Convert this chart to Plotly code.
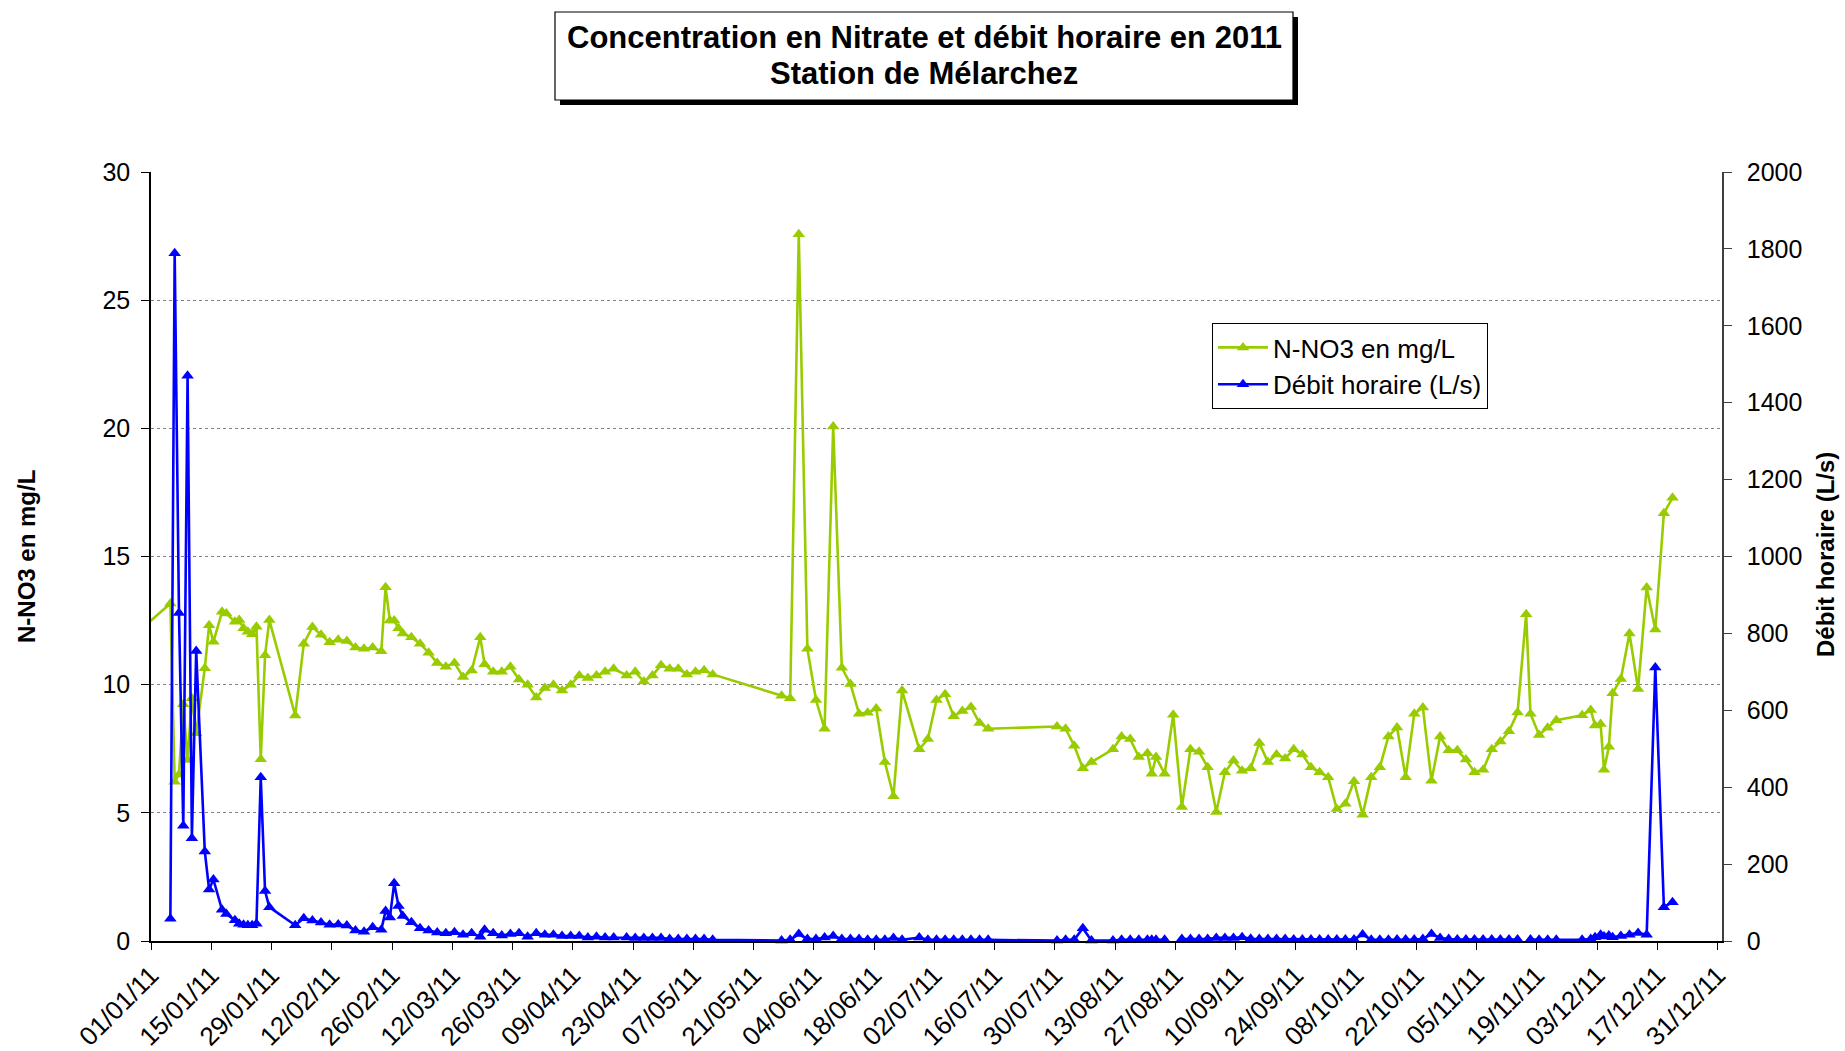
import plotly.graph_objects as go
import pandas as pd

# ---------------- data ----------------
dates = [
    "2010-12-24 12:00",
    "2011-01-05 12:00", "2011-01-06 12:00", "2011-01-07 12:00", "2011-01-08 12:00", "2011-01-09 12:00",
    "2011-01-10 12:00", "2011-01-11 12:00", "2011-01-13 12:00", "2011-01-14 12:00", "2011-01-15 12:00",
    "2011-01-17 12:00", "2011-01-18 12:00", "2011-01-20 12:00", "2011-01-21 12:00", "2011-01-22 12:00",
    "2011-01-23 12:00", "2011-01-24 12:00", "2011-01-25 12:00", "2011-01-26 12:00", "2011-01-27 12:00",
    "2011-01-28 12:00",
    "2011-02-03 12:00", "2011-02-05 12:00", "2011-02-07 12:00", "2011-02-09 12:00", "2011-02-11 12:00",
    "2011-02-13 12:00", "2011-02-15 12:00", "2011-02-17 12:00", "2011-02-19 12:00", "2011-02-21 12:00",
    "2011-02-23 12:00", "2011-02-24 12:00", "2011-02-25 12:00", "2011-02-26 12:00", "2011-02-27 12:00",
    "2011-02-28 12:00",
    "2011-03-02 12:00", "2011-03-04 12:00", "2011-03-06 12:00", "2011-03-08 12:00", "2011-03-10 12:00",
    "2011-03-12 12:00", "2011-03-14 12:00", "2011-03-16 12:00", "2011-03-18 12:00", "2011-03-19 12:00",
    "2011-03-21 12:00", "2011-03-23 12:00", "2011-03-25 12:00", "2011-03-27 12:00", "2011-03-29 12:00",
    "2011-03-31 12:00",
    "2011-04-02 12:00", "2011-04-04 12:00", "2011-04-06 12:00", "2011-04-08 12:00", "2011-04-10 12:00",
    "2011-04-12 12:00", "2011-04-14 12:00", "2011-04-16 12:00", "2011-04-18 12:00", "2011-04-21 12:00",
    "2011-04-23 12:00", "2011-04-25 12:00", "2011-04-27 12:00", "2011-04-29 12:00",
    "2011-05-01 12:00", "2011-05-03 12:00", "2011-05-05 12:00", "2011-05-07 12:00", "2011-05-09 12:00",
    "2011-05-11 12:00", "2011-05-27 12:00", "2011-05-29 12:00", "2011-05-31 12:00",
    "2011-06-02 12:00", "2011-06-04 12:00", "2011-06-06 12:00", "2011-06-08 12:00", "2011-06-10 12:00",
    "2011-06-12 12:00", "2011-06-14 12:00", "2011-06-16 12:00", "2011-06-18 12:00", "2011-06-20 12:00",
    "2011-06-22 12:00", "2011-06-24 12:00", "2011-06-28 12:00", "2011-06-30 12:00",
    "2011-07-02 12:00", "2011-07-04 12:00", "2011-07-06 12:00", "2011-07-08 12:00", "2011-07-10 12:00",
    "2011-07-12 12:00", "2011-07-14 12:00", "2011-07-30 12:00",
    "2011-08-01 12:00", "2011-08-03 12:00", "2011-08-05 12:00", "2011-08-07 12:00", "2011-08-12 12:00",
    "2011-08-14 12:00", "2011-08-16 12:00", "2011-08-18 12:00", "2011-08-20 12:00", "2011-08-21 12:00",
    "2011-08-22 12:00", "2011-08-24 12:00", "2011-08-26 12:00", "2011-08-28 12:00", "2011-08-30 12:00",
    "2011-09-01 12:00", "2011-09-03 12:00", "2011-09-05 12:00", "2011-09-07 12:00", "2011-09-09 12:00",
    "2011-09-11 12:00", "2011-09-13 12:00", "2011-09-15 12:00", "2011-09-17 12:00", "2011-09-19 12:00",
    "2011-09-21 12:00", "2011-09-23 12:00", "2011-09-25 12:00", "2011-09-27 12:00", "2011-09-29 12:00",
    "2011-10-01 12:00", "2011-10-03 12:00", "2011-10-05 12:00", "2011-10-07 12:00", "2011-10-09 12:00",
    "2011-10-11 12:00", "2011-10-13 12:00", "2011-10-15 12:00", "2011-10-17 12:00", "2011-10-19 12:00",
    "2011-10-21 12:00", "2011-10-23 12:00", "2011-10-25 12:00", "2011-10-27 12:00", "2011-10-29 12:00",
    "2011-10-31 12:00",
    "2011-11-02 12:00", "2011-11-04 12:00", "2011-11-06 12:00", "2011-11-08 12:00", "2011-11-10 12:00",
    "2011-11-12 12:00", "2011-11-14 12:00", "2011-11-16 12:00", "2011-11-17 12:00", "2011-11-19 12:00",
    "2011-11-21 12:00", "2011-11-23 12:00", "2011-11-29 12:00",
    "2011-12-01 12:00", "2011-12-02 12:00", "2011-12-03 19:00", "2011-12-04 14:00", "2011-12-05 17:00",
    "2011-12-06 14:00", "2011-12-08 12:00", "2011-12-10 12:00", "2011-12-12 12:00", "2011-12-14 12:00",
    "2011-12-16 12:00", "2011-12-18 12:00", "2011-12-20 12:00",
]

nitrate = [
    11.4,
    13.17, 6.21, 6.5, 9.24, 7.06,
    9.47, 8.1, 10.64, 12.32, 11.67,
    12.84, 12.78, 12.45, 12.52, 12.2,
    12.06, 11.97, 12.26, 7.09, 11.15,
    12.52,
    8.8, 11.6, 12.25, 11.95, 11.65,
    11.75, 11.7, 11.45, 11.4, 11.45,
    11.3, 13.8, 12.5, 12.5, 12.2,
    12.0,
    11.85, 11.6, 11.25, 10.85, 10.7,
    10.85, 10.3, 10.55, 11.85, 10.8,
    10.5, 10.5, 10.7, 10.2, 10.0,
    9.5,
    9.87, 10.0, 9.77, 10.0, 10.36,
    10.26, 10.36, 10.5, 10.62, 10.36,
    10.5, 10.12, 10.36, 10.76,
    10.62, 10.62, 10.4, 10.5, 10.56,
    10.4, 9.57, 9.47, 27.57,
    11.4, 9.4, 8.28, 20.07, 10.66,
    10.03, 8.87, 8.9, 9.07, 6.98,
    5.65, 9.77, 7.48, 7.88,
    9.4, 9.63, 8.77, 8.97, 9.13,
    8.5, 8.28, 8.37,
    8.28, 7.62, 6.74, 6.98, 7.48,
    7.98, 7.88, 7.18, 7.32, 6.52,
    7.18, 6.52, 8.83, 5.23, 7.48,
    7.38, 6.78, 5.03, 6.58, 7.04,
    6.64, 6.74, 7.72, 6.98, 7.28,
    7.12, 7.48, 7.28, 6.78, 6.58,
    6.39, 5.15, 5.35, 6.23, 4.93,
    6.39, 6.78, 7.98, 8.33, 6.39,
    8.87, 9.11, 6.25, 7.98, 7.44,
    7.44,
    7.08, 6.58, 6.68, 7.48, 7.78,
    8.18, 8.91, 12.75, 8.87, 8.04,
    8.32, 8.61, 8.81,
    9.01, 8.41, 8.47, 6.68, 7.58,
    9.67, 10.22, 12.0, 9.83, 13.79,
    12.15, 16.69, 17.29,
]

debit = [
    None,
    58, 1789, 853, 300, 1470,
    267, 754, 233, 134, 160,
    81, 70, 54, 45, 42,
    41, 41, 45, 426, 130,
    88,
    41, 59, 53, 48, 42,
    43, 40, 27, 24, 36,
    29, 78, 61, 150, 91,
    65,
    49, 33, 27, 22, 20,
    23, 16, 20, 11, 29,
    20, 14, 18, 20, 11,
    20,
    16, 16, 13, 13, 13,
    9, 11, 9, 9, 9,
    8, 8, 8, 8,
    5, 5, 5, 5, 5,
    3, 1, 3, 18,
    5, 5, 9, 13, 5,
    5, 5, 3, 3, 3,
    8, 3, 9, 3,
    3, 3, 3, 3, 3,
    3, 3, 1,
    3, 3, 33, 1, 1,
    3, 3, 3, 3, 3,
    3, 3, None, 5, 5,
    5, 5, 8, 8, 8,
    10, 6, 5, 5, 5,
    5, 4, 4, 4, 4,
    4, 4, 4, 4, 17,
    3, 3, 3, 4, 4,
    4, 5, 18, 8, 5,
    4,
    4, 4, 4, 4, 4,
    4, 4, None, 4, 3,
    3, 3, 3,
    5, 10, 16, 12, 14,
    10, 13, 16, 21, 16,
    711, 88, 101,
]

tick_dates = pd.date_range("2011-01-01", "2011-12-31", freq="14D")
tick_labels = ["01/01/11", "15/01/11", "29/01/11", "12/02/11", "26/02/11", "12/03/11", "26/03/11",
               "09/04/11", "23/04/11", "07/05/11", "21/05/11", "04/06/11", "18/06/11", "02/07/11",
               "16/07/11", "30/07/11", "13/08/11", "27/08/11", "10/09/11", "24/09/11", "08/10/11",
               "22/10/11", "05/11/11", "19/11/11", "03/12/11", "17/12/11", "31/12/11"]

title_lines = ["Concentration en Nitrate et débit horaire en 2011", "Station de Mélarchez"]
name_no3 = "N-NO3 en mg/L"
name_q = "Débit horaire (L/s)"

# ---------------- layout geometry (pixels) ----------------
FIG_W, FIG_H = 1845, 1051
L, R, T, B = 151, 1722, 172, 941
W, H = R - L, B - T
FONT = "Liberation Sans, Arial, sans-serif"


def px(x):
    return (x - L) / W


def py(y):
    return (B - y) / H


x = pd.to_datetime(dates)

fig = go.Figure()
fig.add_trace(go.Scatter(
    x=x, y=nitrate, name=name_no3, mode="lines+markers",
    line=dict(color="#99CC00", width=2.6),
    marker=dict(symbol="triangle-up", size=11, color="#99CC00"),
    yaxis="y",
))
fig.add_trace(go.Scatter(
    x=x, y=debit, name=name_q, mode="lines+markers",
    line=dict(color="#0000FF", width=2.6),
    marker=dict(symbol="triangle-up", size=11, color="#0000FF"),
    connectgaps=False, cliponaxis=False,
    yaxis="y2",
))

ytick_font = dict(family=FONT, size=25, color="black")
xtick_font = dict(family=FONT, size=26, color="black")

fig.update_layout(
    width=FIG_W, height=FIG_H, autosize=False,
    margin=dict(l=L, r=FIG_W - R, t=T, b=FIG_H - B, pad=0, autoexpand=False),
    paper_bgcolor="white", plot_bgcolor="white",
    font=dict(family=FONT, color="black"),
    showlegend=True,
    legend=dict(
        x=px(1212), y=py(366), xanchor="left", yanchor="middle",
        bordercolor="black", borderwidth=1, bgcolor="white",
        font=dict(family=FONT, size=26, color="black"),
        itemwidth=50, tracegroupgap=0,
    ),
    xaxis=dict(
        type="date", range=["2011-01-01", "2012-01-01"],
        tickvals=tick_dates, ticktext=tick_labels, tickangle=-45,
        tickfont=xtick_font, ticks="outside", ticklen=7, tickcolor="black",
        showline=True, linecolor="black", linewidth=1.5,
        showgrid=False, zeroline=False, automargin=False,
    ),
    yaxis=dict(
        range=[0, 30], dtick=5, tick0=0,
        tickfont=ytick_font, ticks="outside", ticklen=8, tickcolor="black",
        ticklabelstandoff=6,
        showline=True, linecolor="black", linewidth=1.5,
        showgrid=True, gridcolor="#808080", griddash="dot", gridwidth=1,
        zeroline=False, automargin=False,
    ),
    yaxis2=dict(
        range=[0, 2000], dtick=200, tick0=0,
        overlaying="y", side="right", anchor="x",
        tickfont=ytick_font, ticks="outside", ticklen=8, tickcolor="#404040",
        ticklabelstandoff=10,
        showline=True, linecolor="#404040", linewidth=1.5,
        showgrid=False, zeroline=False, automargin=False,
    ),
)

# title box with shadow
fig.add_shape(type="rect", xref="paper", yref="paper",
              x0=px(560), x1=px(1298), y0=py(105), y1=py(17),
              fillcolor="black", line=dict(width=0), layer="above")
fig.add_shape(type="rect", xref="paper", yref="paper",
              x0=px(555), x1=px(1293), y0=py(100), y1=py(12),
              fillcolor="white", line=dict(color="black", width=1.2), layer="above")
for txt, yc in zip(title_lines, [37, 73]):
    fig.add_annotation(text="<b>" + txt + "</b>", xref="paper", yref="paper",
                       x=px(924), y=py(yc), xanchor="center", yanchor="middle",
                       showarrow=False, font=dict(family=FONT, size=31, color="black"))

# axis titles
fig.add_annotation(text="<b>" + name_no3 + "</b>", xref="paper", yref="paper",
                   x=px(26), y=py(557), textangle=-90, showarrow=False,
                   xanchor="center", yanchor="middle",
                   font=dict(family=FONT, size=24, color="black"))
fig.add_annotation(text="<b>" + name_q + "</b>", xref="paper", yref="paper",
                   x=px(1825), y=py(555), textangle=-90, showarrow=False,
                   xanchor="center", yanchor="middle",
                   font=dict(family=FONT, size=24, color="black"))

fig.write_html(
    "out.html",
    config={"displayModeBar": False},
    post_script="document.body.style.margin='0px';document.body.style.overflow='hidden';",
)
